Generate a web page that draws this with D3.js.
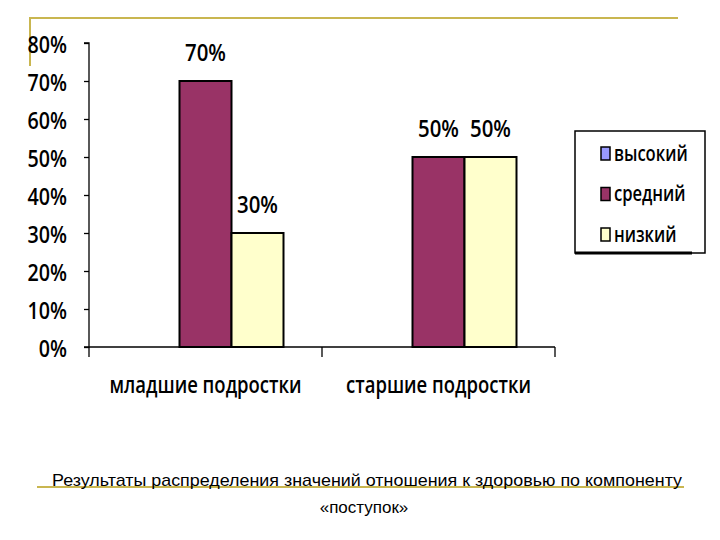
<!DOCTYPE html>
<html><head><meta charset="utf-8">
<script src="https://cdn.jsdelivr.net/npm/d3@7"></script>
<style>body{margin:0;background:#fff}svg{display:block}</style>
</head><body><svg id="c" width="720" height="540"></svg>
<script>
const categories = ["младшие подростки", "старшие подростки"];
const seriesNames = ["высокий", "средний", "низкий"];
const vysokiy = [0, 0];
const sredniy = [70, 50];
const nizkiy = [30, 50];
const yTicks = [0, 10, 20, 30, 40, 50, 60, 70, 80];
const colors = ["#9999FF", "#993366", "#FFFFCC"];
const caption1 = "Результаты распределения значений отношения к здоровью по компоненту";
const caption2 = "«поступок»";

(function () {
const values = [vysokiy, sredniy, nizkiy];
const svg = d3.select("#c");
const pLeft = 89, pRight = 555, pTop = 43, pBottom = 347;
const y = d3.scaleLinear().domain([0, 80]).range([pBottom, pTop]);
const x0 = d3.scaleBand().domain(categories).range([pLeft, pRight]).padding(0);
const groupW = 156;
const x1 = d3.scaleBand().domain(seriesNames).range([0, groupW]).padding(0);
const font = "'Open Sans', Lato, sans-serif";
const narrow = "'Liberation Sans Narrow', 'Arial Narrow', 'Liberation Sans', sans-serif";

// gold decorative lines
svg.append("line").attr("x1", 30).attr("x2", 678).attr("y1", 18).attr("y2", 18).attr("stroke", "#C9B650").attr("stroke-width", 2);
svg.append("line").attr("x1", 30).attr("x2", 30).attr("y1", 17).attr("y2", 66).attr("stroke", "#C9B650").attr("stroke-width", 2);

// helper: condensed text via horizontal scale
function condensed(sel, sx) {
  sel.each(function () {
    const t = d3.select(this);
    const x = +t.attr("x") || 0;
    t.attr("transform", `translate(${x},0) scale(${sx},1) translate(${-x},0)`);
  });
}

// y axis
const yAxis = d3.axisLeft(y).tickValues(yTicks).tickFormat(d => d + "%").tickSize(5).tickPadding(17);
const gy = svg.append("g").attr("transform", `translate(${pLeft},0)`).call(yAxis);
gy.select(".domain").attr("stroke", "#000").attr("stroke-width", 1.3).attr("d", `M-5,${pTop}H0V${pBottom}H-5`);
gy.selectAll(".tick line").attr("stroke", "#000").attr("stroke-width", 1.3);
gy.selectAll("text").attr("font-family", font).attr("font-size", 24).attr("font-weight", 600).attr("fill", "#000")
  .attr("dy", "0.38em");
condensed(gy.selectAll("text"), 0.82);

// x axis
const gx = svg.append("g").attr("transform", `translate(0,${pBottom})`);
gx.append("line").attr("x1", pLeft).attr("x2", pRight).attr("stroke", "#000").attr("stroke-width", 1.3);
const xEdges = [pLeft].concat(categories.map(c => x0(c) + x0.bandwidth()));
gx.selectAll(".xt").data(xEdges).enter().append("line")
  .attr("x1", d => d).attr("x2", d => d).attr("y1", 0).attr("y2", 10)
  .attr("stroke", "#000").attr("stroke-width", 1.3);
const xl = gx.selectAll(".xl").data(categories).enter().append("text")
  .attr("x", d => x0(d) + x0.bandwidth() / 2).attr("y", 46)
  .attr("text-anchor", "middle").attr("font-family", font).attr("font-size", 24).attr("font-weight", 600)
  .text(d => d);
condensed(xl, 0.77);

// bars
categories.forEach((c, ci) => {
  const gOff = x0(c) + (x0.bandwidth() - groupW) / 2;
  seriesNames.forEach((s, si) => {
    const v = values[si][ci];
    if (v <= 0) return;
    svg.append("rect")
      .attr("x", gOff + x1(s)).attr("y", y(v))
      .attr("width", x1.bandwidth()).attr("height", y(0) - y(v))
      .attr("fill", colors[si]).attr("stroke", "#000").attr("stroke-width", 2);
    const t = svg.append("text")
      .attr("x", gOff + x1(s) + x1.bandwidth() / 2).attr("y", y(v) - 29).attr("dy", "0.38em")
      .attr("text-anchor", "middle").attr("font-family", font).attr("font-size", 24).attr("font-weight", 600)
      .text(v + "%");
    condensed(t, 0.85);
  });
});

// legend
const lg = svg.append("g");
lg.append("rect").attr("x", 575).attr("y", 131).attr("width", 130).attr("height", 122)
  .attr("fill", "#fff").attr("stroke", "#000").attr("stroke-width", 1.5);
lg.append("line").attr("x1", 575).attr("x2", 692).attr("y1", 253).attr("y2", 253).attr("stroke", "#000").attr("stroke-width", 3);
seriesNames.forEach((s, i) => {
  const cy = 153 + i * 40.5;
  lg.append("rect").attr("x", 601).attr("y", cy - 6).attr("width", 9).attr("height", 13)
    .attr("fill", colors[i]).attr("stroke", "#000").attr("stroke-width", 1.5);
  const t = lg.append("text").attr("x", 614).attr("y", cy).attr("dy", "0.36em")
    .attr("font-family", font).attr("font-size", 21).attr("font-weight", 600).text(s);
  condensed(t, 0.79);
});

// caption
svg.append("line").attr("x1", 37).attr("x2", 684).attr("y1", 487).attr("y2", 487).attr("stroke", "#C9B650").attr("stroke-width", 2);
svg.append("text").attr("x", 367).attr("y", 486).attr("text-anchor", "middle")
  .attr("font-family", narrow).attr("font-size", 17).attr("textLength", 630).attr("lengthAdjust", "spacingAndGlyphs").text(caption1);
svg.append("text").attr("x", 364).attr("y", 513).attr("text-anchor", "middle")
  .attr("font-family", narrow).attr("font-size", 17).text(caption2);
})();
</script></body></html>
